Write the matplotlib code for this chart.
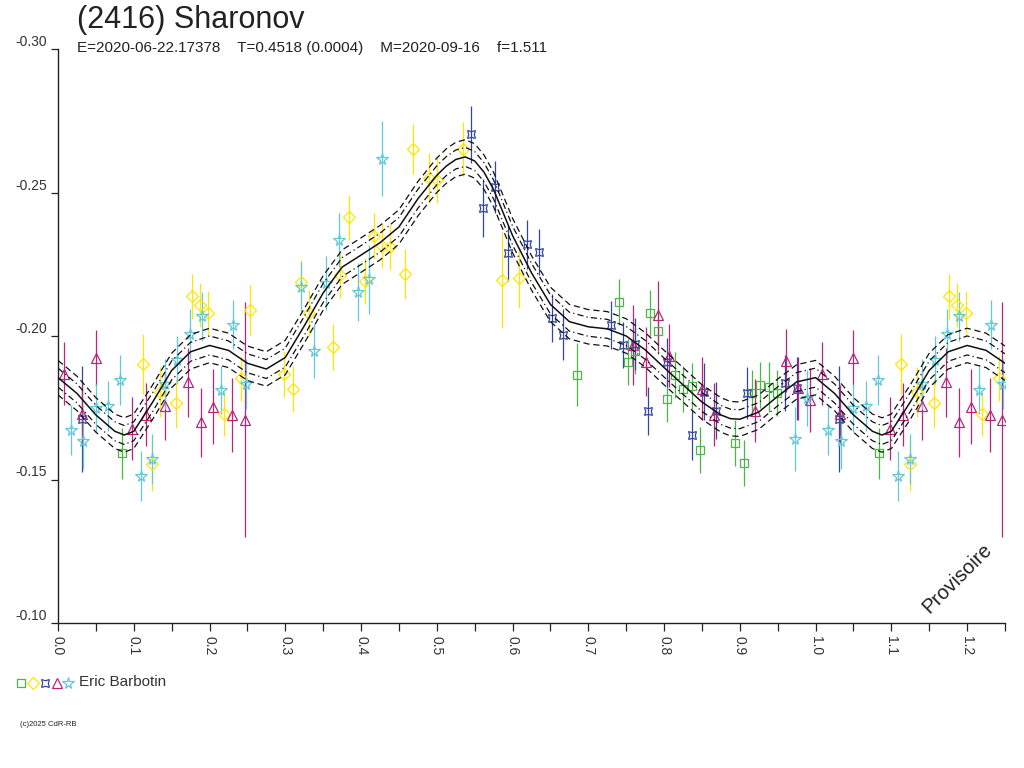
import numpy as np
import matplotlib
matplotlib.use('Agg')
import matplotlib.pyplot as plt
from matplotlib.lines import Line2D

plt.rcParams['font.family'] = ['Liberation Sans', 'DejaVu Sans']

# Fitted lightcurve (phase, relative magnitude)
curve_phase = [0.000, 0.025, 0.050, 0.075, 0.0875, 0.100, 0.125, 0.150, 0.175, 0.200, 0.225,
               0.250, 0.275, 0.300, 0.325, 0.350, 0.375, 0.400, 0.425, 0.450, 0.475,
               0.500, 0.5125, 0.525, 0.5375, 0.550, 0.5625, 0.575, 0.600, 0.625, 0.650,
               0.675, 0.700, 0.725, 0.750, 0.775, 0.800, 0.825, 0.850, 0.875, 0.8875,
               0.900, 0.925, 0.950, 0.975]
curve_mag = [-0.1855, -0.1800, -0.1725, -0.1668, -0.1655, -0.1668, -0.1770, -0.1880, -0.1945, -0.1967, -0.1950,
             -0.1905, -0.1885, -0.1925, -0.2035, -0.2150, -0.2240, -0.2282, -0.2325, -0.2380, -0.2478,
             -0.2560, -0.2592, -0.2615, -0.2624, -0.2610, -0.2570, -0.2510, -0.2350, -0.2220, -0.2110,
             -0.2050, -0.2032, -0.2025, -0.2000, -0.1952, -0.1890, -0.1830, -0.1770, -0.1725, -0.1712,
             -0.1710, -0.1735, -0.1790, -0.1840]
band_inner = 0.0033
band_outer = 0.0060

# Session 1: green squares
green_phase = [0.0841, 0.6852, 0.7404, 0.7523, 0.7622, 0.7818, 0.7926, 0.8036, 0.8144, 0.8256,
               0.8369, 0.8477, 0.8939, 0.9049, 0.9164, 0.9270, 0.9383, 0.9494]
green_mag = [-0.1591, -0.1865, -0.2118, -0.1909, -0.1949, -0.2080, -0.2019, -0.1781, -0.1863, -0.1816,
             -0.1825, -0.1604, -0.1627, -0.1557, -0.1800, -0.1830, -0.1821, -0.1802]
green_err = [0.009, 0.011, 0.008, 0.008, 0.008, 0.008, 0.008, 0.008, 0.008, 0.008,
             0.008, 0.008, 0.008, 0.008, 0.008, 0.008, 0.0087, 0.008]

# Session 2: yellow diamonds
yellow_phase = [0.1127, 0.1246, 0.1343, 0.1563, 0.1764, 0.1872, 0.1985, 0.2193, 0.2421, 0.2530,
                0.2989, 0.3100, 0.3214, 0.3316, 0.3624, 0.3725, 0.3840, 0.4055, 0.4165, 0.4271,
                0.4382, 0.4575, 0.4690, 0.4892, 0.5003, 0.5341, 0.5856, 0.6081]
yellow_mag = [-0.1903, -0.1554, -0.1804, -0.1765, -0.2138, -0.2108, -0.2079, -0.1728, -0.1853, -0.2091,
              -0.1866, -0.1816, -0.2188, -0.2079, -0.1961, -0.2212, -0.2413, -0.2193, -0.2347, -0.2315,
              -0.2310, -0.2217, -0.2650, -0.2551, -0.2543, -0.2653, -0.2196, -0.2202]
yellow_err = [0.0105, 0.0094, 0.0087, 0.0084, 0.0078, 0.0078, 0.0078, 0.0078, 0.0078, 0.0087,
              0.008, 0.008, 0.0078, 0.008, 0.008, 0.0078, 0.008, 0.008, 0.008, 0.0078,
              0.008, 0.0087, 0.0087, 0.0087, 0.008, 0.0094, 0.0168, 0.0105]

# Session 3: blue hourglasses
blue_phase = [0.0313, 0.5452, 0.5614, 0.5773, 0.5935, 0.6186, 0.6345, 0.6517, 0.6671, 0.7301,
              0.7464, 0.7622, 0.7790, 0.8038, 0.8362, 0.8525, 0.8688, 0.9098, 0.9590, 0.9749]
blue_mag = [-0.1711, -0.2703, -0.2446, -0.2519, -0.2289, -0.2319, -0.2292, -0.2062, -0.2005, -0.2039,
            -0.1969, -0.1973, -0.1740, -0.1908, -0.1656, -0.1806, -0.1740, -0.1802, -0.1837, -0.1818]
blue_err = [0.0185, 0.010, 0.010, 0.009, 0.0098, 0.0084, 0.008, 0.0084, 0.009, 0.0084,
            0.008, 0.009, 0.0084, 0.0085, 0.0087, 0.010, 0.0098, 0.009, 0.0098, 0.011]

# Session 4: magenta triangles
magenta_phase = [0.0079, 0.0321, 0.0498, 0.0982, 0.1159, 0.1410, 0.1721, 0.1893, 0.2052, 0.2303,
                 0.2466, 0.7587, 0.7763, 0.7922, 0.8071, 0.8498, 0.8657, 0.9198, 0.9613, 0.9762,
                 0.9921]
magenta_mag = [-0.1868, -0.1728, -0.1923, -0.1677, -0.1725, -0.1757, -0.1839, -0.1699, -0.1754, -0.1725,
               -0.1708, -0.1969, -0.1911, -0.2072, -0.1932, -0.1816, -0.1726, -0.1740, -0.1914, -0.1818,
               -0.1777]
magenta_err = [0.011, 0.010, 0.0098, 0.011, 0.011, 0.012, 0.012, 0.012, 0.013, 0.013,
               0.041, 0.014, 0.012, 0.012, 0.011, 0.011, 0.011, 0.011, 0.011, 0.011,
               0.011]

# Session 5: cyan stars
cyan_phase = [0.0168, 0.0334, 0.0498, 0.0660, 0.0819, 0.1092, 0.1246, 0.1410, 0.1576, 0.1740,
              0.1896, 0.2156, 0.2314, 0.2480, 0.3214, 0.3382, 0.3544, 0.3703, 0.3954, 0.4108,
              0.4271, 0.9732, 0.9885]
cyan_mag = [-0.1674, -0.1635, -0.1748, -0.1757, -0.1848, -0.1511, -0.1571, -0.1833, -0.1917, -0.2008,
            -0.2068, -0.1812, -0.2040, -0.1832, -0.2170, -0.1949, -0.2184, -0.2333, -0.2153, -0.2197,
            -0.2618, -0.1641, -0.1783]
cyan_err = [0.0087, 0.0098, 0.0084, 0.0087, 0.0087, 0.0087, 0.0087, 0.0087, 0.0084, 0.0087,
            0.0084, 0.0084, 0.0087, 0.0087, 0.0087, 0.0094, 0.0094, 0.0094, 0.010, 0.012,
            0.013, 0.011, 0.0098]

x_max = 1.25
x_ticks = [0.0, 0.1, 0.2, 0.3, 0.4, 0.5, 0.6, 0.7, 0.8, 0.9, 1.0, 1.1, 1.2]
y_ticks = [-0.30, -0.25, -0.20, -0.15, -0.10]

title = '(2416) Sharonov'
subtitle = 'E=2020-06-22.17378    T=0.4518 (0.0004)    M=2020-09-16    f=1.511'
observer = 'Eric Barbotin'

series = [
    (green_phase, green_mag, green_err, '#4cb844', 's', 6.0),
    (yellow_phase, yellow_mag, yellow_err, '#ffe600', 'D', 6.3),
    (blue_phase, blue_mag, blue_err, '#3247a0', (4, 1, 45), 8.0),
    (magenta_phase, magenta_mag, magenta_err, '#b8257a', '^', 7.0),
    (cyan_phase, cyan_mag, cyan_err, '#62c8dc', '*', 8.5),
]


def wrap(ph, *cols):
    # repeat the points past phase 1, up to the end of the axis
    ph = np.asarray(ph)
    extra = ph + 1.0 <= x_max
    out = [np.concatenate([ph, ph[extra] + 1.0])]
    for c in cols:
        c = np.asarray(c)
        out.append(np.concatenate([c, c[extra]]))
    return out


fig = plt.figure(figsize=(10.24, 7.68), dpi=100)
ax = fig.add_axes([58 / 1024, 1 - 623 / 768, (1005 - 58) / 1024, (623 - 49) / 768])

for ph, mag, err, col, mk, ms in series:
    p, m, e = wrap(ph, mag, err)
    ax.errorbar(p, m, yerr=e, fmt='none', ecolor=col, elinewidth=0.9, capsize=0, zorder=2)
    ax.plot(p, m, linestyle='none', marker=mk, markersize=ms, markerfacecolor='none',
            markeredgecolor=col, markeredgewidth=0.9, zorder=3)

cp = np.asarray(curve_phase)
cm = np.asarray(curve_mag)
cp_all = np.concatenate([cp, cp + 1.0])
cm_all = np.concatenate([cm, cm])
keep = cp_all <= x_max + 1e-9
cp_all, cm_all = cp_all[keep], cm_all[keep]

ax.plot(cp_all, cm_all, color='#111111', lw=1.1, zorder=4)
for s in (-1, 1):
    ax.plot(cp_all, cm_all + s * band_inner, color='#111111', lw=0.9,
            linestyle=(0, (5, 2.5, 1, 2.5)), zorder=4)
    ax.plot(cp_all, cm_all + s * band_outer, color='#111111', lw=0.9,
            linestyle=(0, (5, 3)), zorder=4)

ax.set_xlim(0, x_max)
ax.set_ylim(-0.10, -0.30)
ax.spines['top'].set_visible(False)
ax.spines['right'].set_visible(False)
for sp in ('left', 'bottom'):
    ax.spines[sp].set_linewidth(1.0)
    ax.spines[sp].set_color('#222222')

ax.set_xticks(x_ticks)
ax.set_xticklabels(['%.1f' % t for t in x_ticks], rotation=270, fontsize=10, color='#333333')
ax.set_xticks([t + 0.05 for t in x_ticks], minor=True)
ax.tick_params(axis='x', which='both', direction='out', length=6, width=0.9, color='#222222', pad=3)

ax.set_yticks(y_ticks)
ax.set_yticklabels(['%.2f' % t for t in y_ticks], fontsize=10, color='#333333')
ax.tick_params(axis='y', direction='out', length=5, width=0.9, color='#222222', pad=3)
for lab in ax.get_yticklabels():
    lab.set_verticalalignment('bottom')

fig.text(77 / 1024, 1 - 20 / 768, title, fontsize=22, color='#222222', va='center', ha='left')
fig.text(77 / 1024, 1 - 48 / 768, subtitle, fontsize=11, color='#222222', va='center', ha='left')

ax.text(0.950, 0.078, 'Provisoire', transform=ax.transAxes, rotation=45, fontsize=14.5,
        color='#222222', ha='center', va='center')

# legend row below the axis
leg_x = [21, 33, 45, 57, 68]
for (ph, mag, err, col, mk, ms), lx in zip(series, leg_x):
    fig.add_artist(Line2D([lx / 1024], [1 - 683 / 768], transform=fig.transFigure,
                          linestyle='none', marker=mk, markersize=ms, markerfacecolor='none',
                          markeredgecolor=col, markeredgewidth=0.9))
fig.text(79 / 1024, 1 - 682 / 768, observer, fontsize=11, color='#333333', va='center', ha='left')
fig.text(20 / 1024, 1 - 724 / 768, '(c)2025 CdR-RB', fontsize=5.5, color='#222222',
         va='center', ha='left')

fig.savefig('out.png', dpi=100)
